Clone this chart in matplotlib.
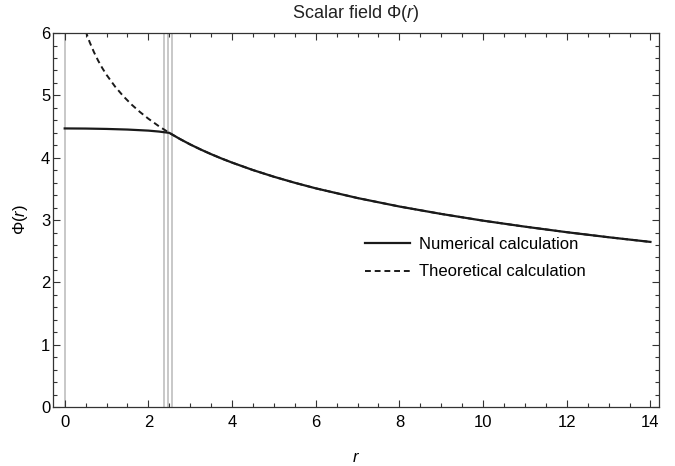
import matplotlib
matplotlib.use("Agg")
import matplotlib.pyplot as plt
from matplotlib.ticker import MultipleLocator

plt.rcParams['font.family'] = ['Liberation Sans', 'DejaVu Sans']
plt.rcParams['mathtext.fontset'] = 'custom'
plt.rcParams['mathtext.rm'] = 'Liberation Sans'
plt.rcParams['mathtext.it'] = 'Liberation Sans:italic'

# Theoretical calculation (dashed)
r_theo = [0.5, 0.55, 0.6, 0.7, 0.8, 0.9, 1.0, 1.2, 1.4, 1.6, 1.8, 2.0, 2.25, 2.5,
          2.75, 3.0, 3.25, 3.5, 3.75, 4, 4.5, 5, 5.5, 6, 7, 8, 9, 10, 11, 12, 13, 14]
phi_theo = [6.034, 5.937, 5.849, 5.693, 5.557, 5.437, 5.330, 5.145, 4.988, 4.852,
            4.733, 4.626, 4.506, 4.399, 4.302, 4.213, 4.132, 4.057, 3.987, 3.922,
            3.802, 3.695, 3.598, 3.509, 3.353, 3.217, 3.098, 2.990, 2.894, 2.805,
            2.724, 2.649]

# Numerical calculation (solid)
r_num = [0.0, 0.5, 1.0, 1.5, 2.0, 2.25, 2.5,
         2.75, 3.0, 3.25, 3.5, 3.75, 4, 4.5, 5, 5.5, 6, 7, 8, 9, 10, 11, 12, 13, 14]
phi_num = [4.470, 4.468, 4.462, 4.452, 4.435, 4.420, 4.399,
           4.302, 4.213, 4.132, 4.057, 3.987, 3.922, 3.802, 3.695, 3.598, 3.509,
           3.353, 3.217, 3.098, 2.990, 2.894, 2.805, 2.724, 2.649]

# Gray vertical marker lines
vlines_r = [0.0, 2.38, 2.48, 2.56]

fig = plt.figure(figsize=(6.75, 4.66), dpi=100)
ax = fig.add_axes([0.0785, 0.1266, 0.8975, 0.8024])

for xv in vlines_r:
    ax.axvline(xv, color='#c4c4c4', lw=1.3, zorder=1)

ax.plot(r_theo, phi_theo, color='#1a1a1a', lw=1.4, ls=(0, (3.0, 2.0)),
        label='Theoretical calculation', zorder=2)
ax.plot(r_num, phi_num, color='#1a1a1a', lw=1.6, label='Numerical calculation', zorder=3)

ax.set_xlim(-0.28, 14.2)
ax.set_ylim(0, 6)
ax.xaxis.set_major_locator(MultipleLocator(2))
ax.xaxis.set_minor_locator(MultipleLocator(0.5))
ax.yaxis.set_major_locator(MultipleLocator(1))
ax.yaxis.set_minor_locator(MultipleLocator(0.2))
ax.tick_params(which='both', direction='in', top=True, right=True, labelsize=12,
               color='#333333', width=0.8)
ax.tick_params(which='major', length=5)
ax.tick_params(which='minor', length=3)
ax.tick_params(axis='x', pad=6)
ax.tick_params(axis='y', pad=2)
for s in ax.spines.values():
    s.set_linewidth(0.9)
    s.set_color('#333333')

ax.set_title(r'Scalar field $\Phi(r)$', fontsize=13, pad=11, color='#222222')
ax.set_xlabel(r'$r$', fontsize=12, labelpad=14)
ax.set_ylabel(r'$\Phi(r)$', fontsize=12, labelpad=8)

h, l = ax.get_legend_handles_labels()
ax.legend(h[::-1], l[::-1], loc='upper left', bbox_to_anchor=(0.49, 0.495),
          frameon=False, fontsize=12, handlelength=2.7, handletextpad=0.55,
          labelspacing=0.75)

fig.savefig('out.png', dpi=100)
